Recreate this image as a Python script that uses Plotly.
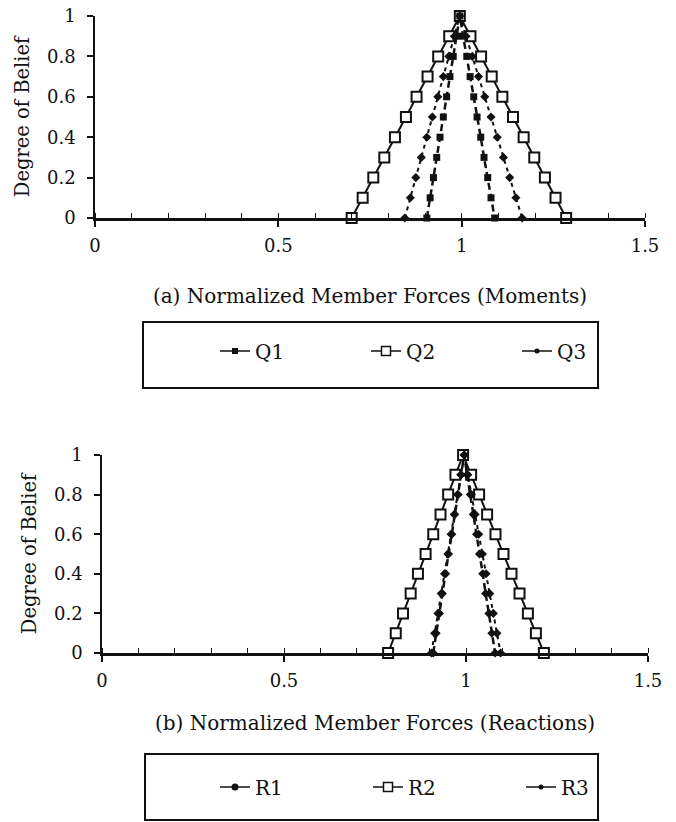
import plotly.graph_objects as go

# ---------------- data ----------------
belief = [0, 0.1, 0.2, 0.3, 0.4, 0.5, 0.6, 0.7, 0.8, 0.9, 1.0,
          0.9, 0.8, 0.7, 0.6, 0.5, 0.4, 0.3, 0.2, 0.1, 0]

# (a) Moments
Q1_x = [0.905, 0.914, 0.923, 0.932, 0.941, 0.950, 0.959, 0.968, 0.977, 0.986, 0.995,
        1.004, 1.014, 1.023, 1.033, 1.042, 1.052, 1.061, 1.071, 1.080, 1.090]
Q2_x = [0.700, 0.730, 0.759, 0.789, 0.818, 0.848, 0.877, 0.907, 0.936, 0.966, 0.995,
        1.024, 1.053, 1.082, 1.111, 1.140, 1.169, 1.198, 1.227, 1.256, 1.285]
Q3_x = [0.845, 0.860, 0.875, 0.890, 0.905, 0.920, 0.935, 0.950, 0.965, 0.980, 0.995,
        1.012, 1.029, 1.046, 1.063, 1.080, 1.097, 1.114, 1.131, 1.148, 1.165]

# (b) Reactions
R1_x = [0.910, 0.918, 0.927, 0.935, 0.944, 0.952, 0.961, 0.969, 0.978, 0.986, 0.995,
        1.003, 1.012, 1.020, 1.029, 1.037, 1.046, 1.054, 1.063, 1.071, 1.080]
R2_x = [0.786, 0.807, 0.827, 0.848, 0.868, 0.889, 0.910, 0.930, 0.951, 0.971, 0.992,
        1.014, 1.036, 1.058, 1.081, 1.103, 1.125, 1.147, 1.170, 1.192, 1.214]
R3_x = [0.905, 0.914, 0.923, 0.932, 0.941, 0.950, 0.959, 0.968, 0.977, 0.986, 0.995,
        1.005, 1.015, 1.025, 1.035, 1.045, 1.055, 1.065, 1.075, 1.085, 1.095]

x_ticks = [0, 0.5, 1, 1.5]
x_tick_labels = ["0", "0.5", "1", "1.5"]
y_ticks = [0, 0.2, 0.4, 0.6, 0.8, 1]
y_tick_labels = ["0", "0.2", "0.4", "0.6", "0.8", "1"]

title_a = "(a) Normalized Member Forces (Moments)"
title_b = "(b) Normalized Member Forces (Reactions)"
y_title = "Degree of Belief"

# ---------------- figure ----------------
W, H = 676, 822
FONT = "DejaVu Serif"
BLACK = "#111111"

fig = go.Figure()

def add_series(xs, name, sym, size, dash, width, xa, ya, leg, rank, open_=False, lsize=None, lsym=None):
    marker = dict(symbol=sym, size=size, color="white" if open_ else BLACK,
                  line=dict(color=BLACK, width=2 if open_ else 0))
    fig.add_trace(go.Scatter(x=xs, y=belief, mode="lines+markers", name=name,
                             xaxis=xa, yaxis=ya, showlegend=False, cliponaxis=False,
                             line=dict(color=BLACK, width=width, dash=dash),
                             marker=marker))
    lmarker = dict(symbol=lsym or sym, size=lsize or size, color="white" if open_ else BLACK,
                   line=dict(color=BLACK, width=1.5 if open_ else 0))
    fig.add_trace(go.Scatter(x=[None], y=[None], mode="lines+markers", name=name,
                             xaxis=xa, yaxis=ya, showlegend=True, legend=leg, legendrank=rank,
                             line=dict(color=BLACK, width=1.3), marker=lmarker))

# top chart
add_series(Q2_x, "Q2", "square", 10, "solid", 2, "x", "y", "legend", 2, open_=True, lsize=9)
add_series(Q3_x, "Q3", "diamond", 7, "4px,4px", 2, "x", "y", "legend", 3, lsize=5, lsym="circle")
add_series(Q1_x, "Q1", "square", 7, "7px,4px", 2.5, "x", "y", "legend", 1, lsize=6)
# bottom chart
add_series(R2_x, "R2", "square", 10, "solid", 2, "x2", "y2", "legend2", 2, open_=True, lsize=9)
add_series(R3_x, "R3", "diamond", 7, "4px,4px", 2, "x2", "y2", "legend2", 3, lsize=5, lsym="circle")
add_series(R1_x, "R1", "diamond", 7, "7px,4px", 2.5, "x2", "y2", "legend2", 1, lsize=7, lsym="circle")

def px_x(p):
    return p / W

def px_y(p):
    return 1 - p / H

top_dom_x = [px_x(95), px_x(645)]
top_dom_y = [px_y(218), px_y(16)]
bot_dom_x = [px_x(102), px_x(648)]
bot_dom_y = [px_y(653), px_y(455)]

tickfont = dict(family=FONT, size=18, color=BLACK)
titlefont = dict(family=FONT, size=19.5, color=BLACK)

def xaxis_main(dom, anchor, title, standoff):
    return dict(domain=dom, anchor=anchor, range=[0, 1.5], tickmode="array",
                tickvals=x_ticks, ticktext=x_tick_labels, ticks="outside", ticklen=6,
                tickwidth=1.5, tickcolor=BLACK, showline=True, linecolor=BLACK, linewidth=2.5,
                showgrid=False, zeroline=False, tickfont=tickfont, ticklabelstandoff=4,
                minor=dict(dtick=0.1, tick0=0, ticks="inside", ticklen=5, tickwidth=1.3,
                           tickcolor=BLACK, showgrid=False),
                title=dict(text=title, font=dict(family=FONT, size=20, color=BLACK),
                           standoff=standoff),
                fixedrange=True, automargin=False)

def xaxis_over(over, anchor):
    return dict(overlaying=over, anchor=anchor, range=[0, 1.5], tickmode="array",
                tickvals=x_ticks, ticks="inside", ticklen=6, tickwidth=1.5, tickcolor=BLACK,
                showticklabels=False, showline=False, showgrid=False, zeroline=False)

def yaxis_main(dom, anchor):
    return dict(domain=dom, anchor=anchor, range=[0, 1], tickmode="array",
                tickvals=y_ticks, ticktext=y_tick_labels, ticks="outside", ticklen=6,
                tickwidth=1.5, tickcolor=BLACK, showline=True, linecolor=BLACK, linewidth=1.5,
                showgrid=False, zeroline=False, tickfont=tickfont, ticklabelstandoff=8,
                title=dict(text=y_title, font=titlefont, standoff=12), fixedrange=True,
                automargin=False)

def yaxis_over(over, anchor):
    return dict(overlaying=over, anchor=anchor, range=[0, 1], tickmode="array",
                tickvals=y_ticks, ticks="inside", ticklen=6, tickwidth=1.5, tickcolor=BLACK,
                showticklabels=False, showline=False, showgrid=False, zeroline=False)

legfont = dict(family=FONT, size=20, color=BLACK)

fig.update_layout(
    width=W, height=H, margin=dict(l=0, r=0, t=0, b=0, autoexpand=False),
    paper_bgcolor="white", plot_bgcolor="rgba(0,0,0,0)",
    font=dict(family=FONT, color=BLACK),
    xaxis=xaxis_main(top_dom_x, "y", title_a, 34),
    yaxis=yaxis_main(top_dom_y, "x"),
    xaxis2=xaxis_main(bot_dom_x, "y2", title_b, 26),
    yaxis2=yaxis_main(bot_dom_y, "x2"),
    xaxis3=xaxis_over("x", "y"),
    yaxis3=yaxis_over("y", "x"),
    xaxis4=xaxis_over("x2", "y2"),
    yaxis4=yaxis_over("y2", "x2"),
    legend=dict(orientation="h", x=px_x(215), xanchor="left", y=px_y(351), yanchor="middle",
                entrywidth=106, entrywidthmode="pixels", font=legfont, bgcolor="rgba(0,0,0,0)",
                borderwidth=0, traceorder="normal"),
    legend2=dict(orientation="h", x=px_x(215), xanchor="left", y=px_y(787), yanchor="middle",
                 entrywidth=108, entrywidthmode="pixels", font=legfont, bgcolor="rgba(0,0,0,0)",
                 borderwidth=0, traceorder="normal"),
    shapes=[
        dict(type="rect", xref="paper", yref="paper", x0=px_x(143), x1=px_x(598),
             y0=px_y(388), y1=px_y(322), line=dict(color=BLACK, width=2)),
        dict(type="rect", xref="paper", yref="paper", x0=px_x(145), x1=px_x(598),
             y0=px_y(820), y1=px_y(754), line=dict(color=BLACK, width=2)),
    ],
)

fig.write_html("out.html")
